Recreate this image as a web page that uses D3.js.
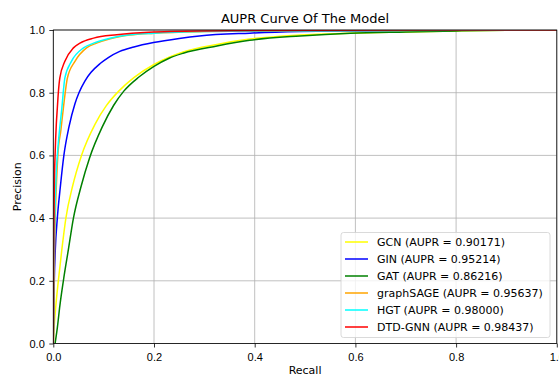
<!DOCTYPE html>
<html>
<head>
<meta charset="utf-8">
<script src="https://cdn.jsdelivr.net/npm/d3@7"></script>
<style>
  body { margin: 0; background: #fff; }
  svg { font-family: "DejaVu Sans", sans-serif; }
  .axis text { font-size: 11px; fill: #000; }
  .axis path, .axis line { stroke: #000; stroke-width: 0.8; }
</style>
</head>
<body>
<svg width="559" height="377"></svg>
<script>
// values: recall / precision pairs per model
const models = ["GCN", "GIN", "GAT", "graphSAGE", "HGT", "DTD-GNN"];
const aupr = ["0.90171", "0.95214", "0.86216", "0.95637", "0.98000", "0.98437"];
const colors = ["yellow", "blue", "green", "orange", "cyan", "red"];

const gcnRecall = [0, 0.002, 0.005, 0.01, 0.017, 0.025, 0.038, 0.056, 0.083, 0.105, 0.13, 0.16, 0.2, 0.23, 0.258, 0.325, 0.39, 0.49, 0.59, 0.7, 0.8, 0.9, 1.0];
const gcnPrec = [0, 0.06, 0.12, 0.2, 0.3, 0.4, 0.5, 0.6, 0.7, 0.758, 0.805, 0.848, 0.89, 0.913, 0.93, 0.954, 0.971, 0.984, 0.99, 0.994, 0.997, 0.999, 1.0];

const ginRecall = [0, 0.001, 0.002, 0.004, 0.008, 0.014, 0.021, 0.031, 0.043, 0.051, 0.063, 0.075, 0.093, 0.11, 0.132, 0.16, 0.199, 0.25, 0.29, 0.39, 0.49, 0.6, 0.8, 1.0];
const ginPrec = [0, 0.1, 0.2, 0.3, 0.4, 0.5, 0.6, 0.69, 0.765, 0.8, 0.838, 0.865, 0.893, 0.913, 0.932, 0.946, 0.96, 0.973, 0.981, 0.99, 0.995, 0.997, 0.999, 1.0];

const gatRecall = [0.0035, 0.008, 0.013, 0.02, 0.03, 0.04, 0.055, 0.072, 0.097, 0.12, 0.14, 0.17, 0.2, 0.23, 0.258, 0.325, 0.39, 0.49, 0.59, 0.7, 0.8, 0.9, 1.0];
const gatPrec = [0, 0.05, 0.12, 0.2, 0.3, 0.4, 0.5, 0.592, 0.69, 0.76, 0.805, 0.85, 0.884, 0.91, 0.926, 0.949, 0.967, 0.981, 0.99, 0.994, 0.997, 0.999, 1.0];

const sageRecall = [0, 0.001, 0.003, 0.006, 0.009, 0.015, 0.02, 0.028, 0.043, 0.066, 0.086, 0.113, 0.152, 0.2, 0.3, 0.5, 0.8, 1.0];
const sagePrec = [0, 0.15, 0.35, 0.5, 0.6, 0.68, 0.751, 0.847, 0.9, 0.943, 0.958, 0.972, 0.984, 0.99, 0.995, 0.998, 0.999, 1.0];

const hgtRecall = [0, 0.001, 0.003, 0.006, 0.009, 0.017, 0.023, 0.036, 0.06, 0.08, 0.113, 0.152, 0.2, 0.3, 0.5, 0.8, 1.0];
const hgtPrec = [0, 0.2, 0.4, 0.55, 0.62, 0.751, 0.847, 0.9, 0.943, 0.958, 0.974, 0.985, 0.99, 0.995, 0.998, 0.999, 1.0];

const dtdRecall = [0, 0.001, 0.002, 0.0035, 0.006, 0.008, 0.01, 0.013, 0.023, 0.04, 0.053, 0.08, 0.126, 0.19, 0.3, 0.5, 1.0];
const dtdPrec = [0, 0.3, 0.5, 0.6, 0.7, 0.751, 0.8, 0.847, 0.9, 0.943, 0.958, 0.974, 0.985, 0.993, 0.997, 0.999, 1.0];

const recalls = [gcnRecall, ginRecall, gatRecall, sageRecall, hgtRecall, dtdRecall];
const precs = [gcnPrec, ginPrec, gatPrec, sagePrec, hgtPrec, dtdPrec];
const tickVals = [0, 0.2, 0.4, 0.6, 0.8, 1.0];

const svg = d3.select("svg");
const plotL = 53.3, plotR = 556.8, plotT = 30, plotB = 343.5;

const x = d3.scaleLinear().domain([0, 1]).range([plotL, plotR]);
const y = d3.scaleLinear().domain([0, 1]).range([plotB, plotT]);

svg.append("defs").append("clipPath").attr("id", "clip")
  .append("rect")
  .attr("x", plotL).attr("y", plotT)
  .attr("width", plotR - plotL).attr("height", plotB - plotT);

// grid
const grid = svg.append("g");
tickVals.forEach(v => {
  grid.append("line")
    .attr("x1", x(v)).attr("x2", x(v)).attr("y1", plotT).attr("y2", plotB)
    .attr("stroke", "#b0b0b0").attr("stroke-width", 0.8);
  grid.append("line")
    .attr("x1", plotL).attr("x2", plotR).attr("y1", y(v)).attr("y2", y(v))
    .attr("stroke", "#b0b0b0").attr("stroke-width", 0.8);
});

const line = d3.line()
  .x(d => x(d[0]))
  .y(d => y(d[1]))
  .curve(d3.curveMonotoneX);

const curves = svg.append("g").attr("clip-path", "url(#clip)");
models.forEach((m, i) => {
  const pts = recalls[i].map((r, j) => [r, precs[i][j]]);
  curves.append("path")
    .datum(pts)
    .attr("fill", "none")
    .attr("stroke", colors[i])
    .attr("stroke-width", 1.5)
    .attr("stroke-linejoin", "round")
    .attr("d", line);
});

// frame
svg.append("rect")
  .attr("x", plotL).attr("y", plotT)
  .attr("width", plotR - plotL).attr("height", plotB - plotT)
  .attr("fill", "none").attr("stroke", "#000").attr("stroke-width", 0.8);

const fmt = d3.format(".1f");
svg.append("g")
  .attr("class", "axis")
  .attr("transform", `translate(0,${plotB})`)
  .call(d3.axisBottom(x).tickValues(tickVals).tickFormat(fmt).tickSize(4).tickPadding(5.5))
  .call(g => g.select(".domain").remove());

svg.append("g")
  .attr("class", "axis")
  .attr("transform", `translate(${plotL},0)`)
  .call(d3.axisLeft(y).tickValues(tickVals).tickFormat(fmt).tickSize(4).tickPadding(4.5))
  .call(g => g.select(".domain").remove());

svg.append("text")
  .attr("x", (plotL + plotR) / 2).attr("y", 22.5)
  .attr("text-anchor", "middle")
  .attr("font-size", 13)
  .text("AUPR Curve Of The Model");

svg.append("text")
  .attr("x", (plotL + plotR) / 2).attr("y", 374)
  .attr("text-anchor", "middle")
  .attr("font-size", 11)
  .text("Recall");

svg.append("text")
  .attr("transform", `translate(20.5,${(plotT + plotB) / 2}) rotate(-90)`)
  .attr("text-anchor", "middle")
  .attr("font-size", 11)
  .text("Precision");

// legend
const legend = svg.append("g");
legend.append("rect")
  .attr("x", 341).attr("y", 232.5)
  .attr("width", 209).attr("height", 105)
  .attr("rx", 2.5)
  .attr("fill", "#fff").attr("fill-opacity", 0.8)
  .attr("stroke", "#d0d0d0").attr("stroke-width", 0.8);

models.forEach((m, i) => {
  const cy = 242 + i * 17;
  legend.append("line")
    .attr("x1", 345).attr("x2", 368)
    .attr("y1", cy).attr("y2", cy)
    .attr("stroke", colors[i]).attr("stroke-width", 1.5);
  legend.append("text")
    .attr("x", 377).attr("y", cy)
    .attr("dy", "0.35em")
    .attr("font-size", 11)
    .text(`${m} (AUPR = ${aupr[i]})`);
});
</script>
</body>
</html>
